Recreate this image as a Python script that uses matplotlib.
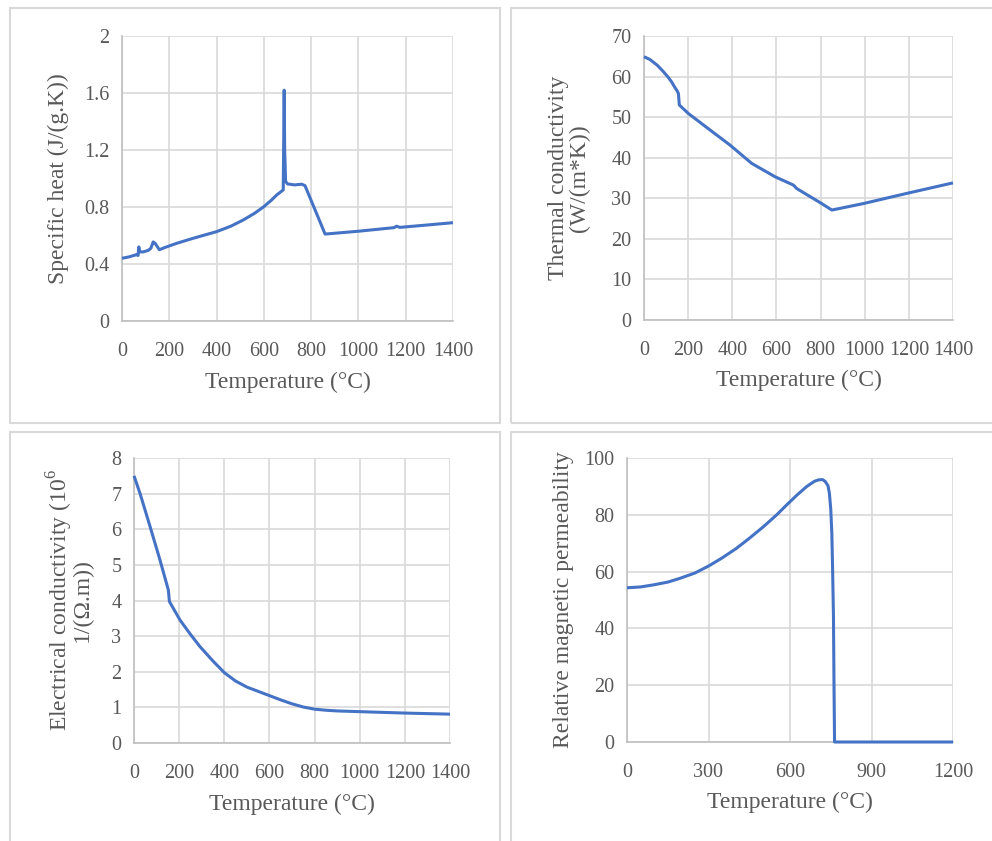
import matplotlib
matplotlib.use("Agg")
import matplotlib.pyplot as plt
from matplotlib.patches import Rectangle

plt.rcParams['font.family'] = ['Liberation Serif', 'DejaVu Serif']
plt.rcParams['mathtext.fontset'] = 'custom'
plt.rcParams['mathtext.rm'] = 'Liberation Serif'

# ---- data ----
cp_T = [0, 30, 60, 68, 71, 75, 90, 110, 122, 132, 140, 158, 180, 231, 300, 400, 460, 513, 560,
        598, 630, 654, 682, 686, 688, 692, 700, 730, 760, 774, 859, 1000, 1150, 1162, 1175,
        1300, 1400]
cp_v = [0.44, 0.45, 0.465, 0.46, 0.52, 0.485, 0.485, 0.495, 0.51, 0.555, 0.545, 0.50, 0.515,
        0.545, 0.58, 0.627, 0.665, 0.709, 0.755, 0.80, 0.845, 0.884, 0.92, 1.62, 1.2, 0.98,
        0.962, 0.955, 0.96, 0.95, 0.61, 0.63, 0.655, 0.665, 0.657, 0.675, 0.69]

k_T = [0, 27, 60, 88, 110, 125, 140, 150, 156, 160, 201, 300, 390, 488, 594, 677, 692, 805,
       851, 994, 1190, 1400]
k_v = [64.9, 64.2, 62.8, 61.2, 59.8, 58.7, 57.3, 56.5, 55.8, 53.0, 50.9, 46.8, 43.1, 38.6,
       35.3, 33.25, 32.4, 28.7, 27.1, 28.7, 31.2, 33.8]

s_T = [0, 27, 71, 115, 152, 157, 204, 250, 293, 350, 401, 450, 500, 550, 600, 650, 700, 750,
       800, 850, 900, 1000, 1200, 1400]
s_v = [7.5, 7.0, 6.08, 5.14, 4.3, 3.97, 3.45, 3.05, 2.7, 2.3, 1.97, 1.74, 1.57, 1.45, 1.33,
       1.21, 1.1, 1.01, 0.95, 0.92, 0.9, 0.88, 0.84, 0.81]

mu_T = [0, 50, 96, 150, 194, 250, 301, 350, 403, 450, 502, 550, 588, 625, 662, 690, 705, 720,
        730, 740, 745, 750, 754, 757, 760, 762, 764, 1200]
mu_v = [54.3, 54.6, 55.3, 56.3, 57.6, 59.5, 62.0, 64.8, 68.2, 71.7, 75.8, 79.9, 83.5, 86.9,
        90, 91.8, 92.3, 92.4, 91.7, 90.2, 87.6, 82, 73.5, 60, 44, 20, 0, 0]

W, H = 992, 841
fig = plt.figure(figsize=(W / 100, H / 100), dpi=100)

LINE = '#4472C4'
GRID = '#D9D9D9'
TXT = '#595959'

# panel borders (pixels: x0, y0_top, x1, y1_top)
for (x0, y0, x1, y1) in [(10, 8, 500, 423), (511, 8, 1000, 423),
                         (10, 432, 500, 900), (511, 432, 1000, 900)]:
    fig.patches.append(Rectangle((x0 / W, 1 - y1 / H), (x1 - x0) / W, (y1 - y0) / H,
                                 transform=fig.transFigure, fill=False,
                                 edgecolor=GRID, linewidth=1.5))


def make_ax(x0, y0, x1, y1):
    return fig.add_axes([x0 / W, 1 - y1 / H, (x1 - x0) / W, (y1 - y0) / H])


def style(ax, xt, yt, yfmt, ylabel, ylab_x, xlab_y=-0.177, lsp=1.0):
    ax.set_xlim(xt[0], xt[-1])
    ax.set_ylim(yt[0], yt[-1])
    ax.set_xticks(xt)
    ax.set_yticks(yt)
    ax.set_yticklabels([yfmt(v) for v in yt])
    ax.grid(True, color=GRID, linewidth=1.2)
    ax.set_axisbelow(True)
    for s in ['top', 'right']:
        ax.spines[s].set_visible(False)
    for s in ['left', 'bottom']:
        ax.spines[s].set_color('#BFBFBF')
        ax.spines[s].set_linewidth(1.2)
        ax.spines[s].set_zorder(1.5)
    ax.tick_params(length=0, labelsize=14.5, colors=TXT)
    ax.tick_params(axis='x', pad=15)
    ax.tick_params(axis='y', pad=9)
    ax.set_xlabel('Temperature (°C)', fontsize=17, color=TXT)
    ax.xaxis.set_label_coords(0.5, xlab_y)
    ax.set_ylabel(ylabel, fontsize=17, color=TXT, linespacing=lsp)
    ax.yaxis.set_label_coords(ylab_x, 0.5)


def draw(ax, x, y):
    ax.plot(x, y, color=LINE, linewidth=2.2, zorder=3, clip_on=False,
            solid_joinstyle='round', solid_capstyle='butt')


ax1 = make_ax(122, 36, 453, 321)
draw(ax1, cp_T, cp_v)
style(ax1, list(range(0, 1401, 200)), [0, 0.4, 0.8, 1.2, 1.6, 2.0],
      lambda v: '0' if v == 0 else ('2' if v == 2 else f'{v:.1f}'),
      'Specific heat (J/(g.K))', -0.16)

ax2 = make_ax(644, 36, 953, 320)
draw(ax2, k_T, k_v)
style(ax2, list(range(0, 1401, 200)), list(range(0, 71, 10)),
      lambda v: f'{v}', 'Thermal conductivity\n(W/(m*K))', -0.175)

ax3 = make_ax(134, 458, 450, 743)
draw(ax3, s_T, s_v)
style(ax3, list(range(0, 1401, 200)), list(range(0, 9)),
      lambda v: f'{v}', 'Electrical conductivity (10$^{6}$\n1/(Ω.m))', -0.13, lsp=0.8)

ax4 = make_ax(627, 458, 953, 742)
draw(ax4, mu_T, mu_v)
style(ax4, list(range(0, 1201, 300)), list(range(0, 101, 20)),
      lambda v: f'{v}', 'Relative magnetic permeability', -0.163)

fig.savefig('out.png', dpi=100, facecolor='white')
